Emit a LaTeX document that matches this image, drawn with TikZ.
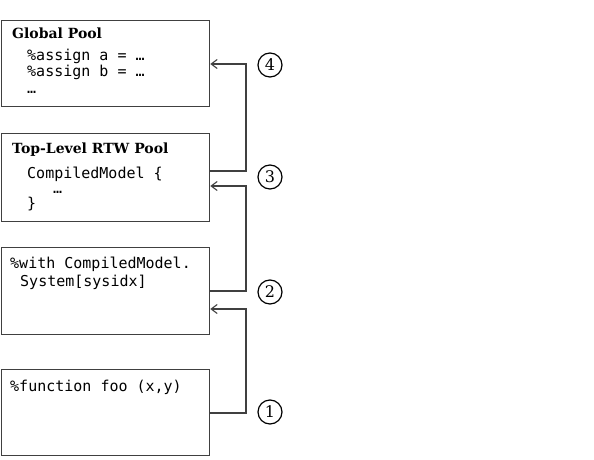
\documentclass[tikz,border=0pt]{standalone}
\usepackage{fontspec}
\usetikzlibrary{arrows.meta}
\newfontfamily\codefont{DejaVu Sans Mono}
\newfontfamily\headfont{DejaVu Serif}
\tikzset{
  box/.style={draw=black!75, line width=1.3pt, anchor=north west, minimum width=208pt, inner sep=0pt},
  titletext/.style={anchor=base west, inner sep=0pt, font=\fontsize{14}{16}\headfont\bfseries},
  code/.style={anchor=base west, inner sep=0pt, font=\fontsize{15}{17}\codefont},
  link/.style={draw=black!75, line width=1.3pt, -{Straight Barb[length=6pt,width=9pt,line width=1.1pt]}},
  num/.style={circle, draw=black, line width=1.2pt, minimum size=24pt, inner sep=0pt, font=\fontsize{16}{18}\headfont}
}
\begin{document}
\begin{tikzpicture}[x=1pt,y=-1pt]
\useasboundingbox (0,0) rectangle (594,460);
% boxes
\node[box, minimum height=86pt] (b1) at (1,20) {};
\node[box, minimum height=88pt] (b2) at (1,133) {};
\node[box, minimum height=87pt] (b3) at (1,247) {};
\node[box, minimum height=86pt] (b4) at (1,369) {};
% texts
\node[titletext] (t1) at (12,38) {Global Pool};
\node[code] (c11) at (27,61) {\%assign a = …};
\node[code] (c12) at (27,77) {\%assign b = …};
\node[code] (c13) at (27,93) {…};
\node[titletext] (t2) at (12,153) {Top-Level RTW Pool};
\node[code] (c21) at (27,178) {CompiledModel \{};
\node[code] (c22) at (53,193) {…};
\node[code] (c23) at (27,208) {\}};
\node[code] (c31) at (10,268) {\%with CompiledModel.};
\node[code] (c32) at (20,286) {System[sysidx]};
\node[code] (c41) at (10,391) {\%function foo (x,y)};
% connector corners
\coordinate (k1) at (246,413);
\coordinate (k1u) at (246,309);
\coordinate (k2) at (246,291);
\coordinate (k2u) at (246,186);
\coordinate (k3) at (246,171);
\coordinate (k3u) at (246,64);
\draw[link] (b4.east |- k1) -- (k1) -- (k1u) -- (b3.east |- k1u);
\draw[link] (b3.east |- k2) -- (k2) -- (k2u) -- (b2.east |- k2u);
\draw[link] (b2.east |- k3) -- (k3) -- (k3u) -- (b1.east |- k3u);
% numbers
\node[num] (n1) at (270,412) {1};
\node[num] (n2) at (270,292) {2};
\node[num] (n3) at (270,177) {3};
\node[num] (n4) at (270,65) {4};
\end{tikzpicture}
\end{document}
